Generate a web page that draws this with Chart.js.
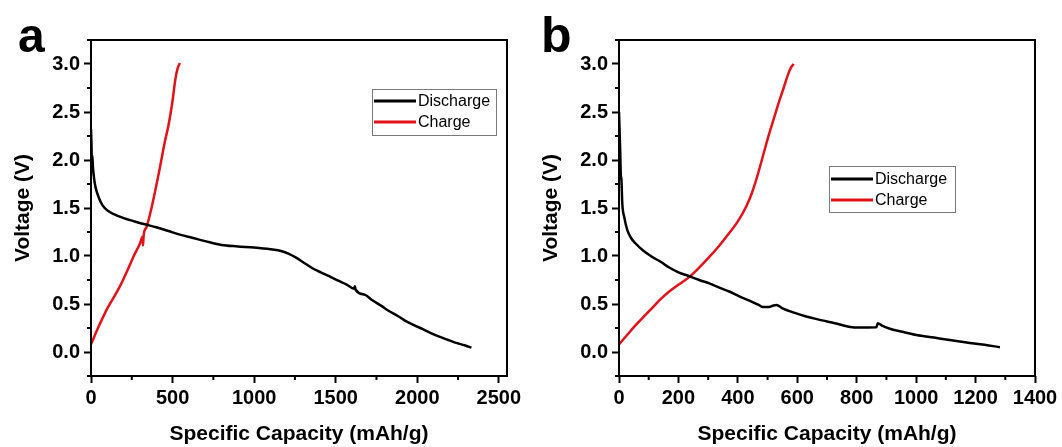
<!DOCTYPE html>
<html>
<head>
<meta charset="utf-8">
<title>Discharge / charge curves</title>
<script src="https://cdn.jsdelivr.net/npm/chart.js@4.4.1/dist/chart.umd.min.js"></script>
<style>
  html, body { margin: 0; padding: 0; background: #fff; }
  #wrap { position: relative; width: 1062px; height: 447px; overflow: hidden; }
  #wrap canvas { position: absolute; top: 0; }
  #chartA { left: 0; }
  #chartB { left: 528px; }
</style>
</head>
<body>
<div id="wrap">
  <canvas id="chartA" width="531" height="447"></canvas>
  <canvas id="chartB" width="534" height="447"></canvas>
</div>
<script>
// series names (same in both panels)
var seriesNames = ['Discharge', 'Charge'];

// panel a : capacity (mAh/g) / voltage (V)
var aDischargeCap  = [0, 3, 5, 8, 12, 18, 25, 35, 50, 70, 100, 140, 200, 268, 330, 400, 475, 550, 620, 700,
                      800, 900, 1000, 1100, 1170, 1210, 1260, 1305, 1360, 1408, 1460, 1512, 1570, 1612, 1618, 1622, 1680, 1720, 1780, 1824,
                      1880, 1927, 1980, 2031, 2080, 2135, 2190, 2238, 2290, 2332];
var aDischargeVolt = [2.32, 2.15, 2.0, 2.05, 1.92, 1.82, 1.74, 1.67, 1.60, 1.53, 1.475, 1.435, 1.395, 1.36, 1.33, 1.30, 1.26, 1.22, 1.19, 1.155,
                      1.115, 1.10, 1.088, 1.07, 1.05, 1.025, 0.98, 0.93, 0.87, 0.83, 0.79, 0.745, 0.70, 0.66, 0.685, 0.648, 0.595, 0.545, 0.48, 0.43,
                      0.375, 0.325, 0.28, 0.24, 0.2, 0.16, 0.125, 0.095, 0.07, 0.045];
var aChargeCap  = [0, 20, 40, 70, 102, 143, 185, 226, 268, 300, 316, 319, 323, 340, 371, 413, 454, 476, 500, 517, 530, 545];
var aChargeVolt = [0.08, 0.16, 0.24, 0.35, 0.46, 0.58, 0.71, 0.86, 1.02, 1.13, 1.20, 1.11, 1.22, 1.30, 1.50, 1.84, 2.2, 2.37, 2.62, 2.84, 2.95, 3.01];

// panel b
var bDischargeCap  = [0, 2, 4, 6, 8, 11, 18, 28, 40, 56, 80, 112, 140, 169, 200, 236, 270, 304, 338, 371,
                      405, 439, 470, 483, 505, 520, 530, 550, 589, 630, 669, 726, 786, 800, 866, 871, 885, 909, 954, 1001,
                      1060, 1113, 1170, 1230, 1282];
var bDischargeVolt = [2.5, 2.3, 2.1, 1.85, 1.8, 1.55, 1.4, 1.27, 1.19, 1.13, 1.06, 0.99, 0.94, 0.88, 0.83, 0.79, 0.75, 0.715, 0.67, 0.63,
                      0.58, 0.535, 0.49, 0.47, 0.47, 0.485, 0.49, 0.455, 0.41, 0.37, 0.34, 0.30, 0.257, 0.255, 0.257, 0.30, 0.275, 0.245, 0.21, 0.177,
                      0.15, 0.125, 0.1, 0.075, 0.05];
var bChargeCap  = [0, 28, 56, 84, 112, 140, 169, 200, 236, 270, 304, 338, 371, 400, 429, 450, 470, 486, 506, 520, 540, 554, 570, 580, 588];
var bChargeVolt = [0.08, 0.18, 0.28, 0.37, 0.46, 0.55, 0.63, 0.70, 0.78, 0.88, 0.99, 1.11, 1.24, 1.36, 1.52, 1.68, 1.88, 2.06, 2.28, 2.42,
                   2.62, 2.75, 2.9, 2.97, 3.0];

// ticks
var aXTicks = [0, 500, 1000, 1500, 2000, 2500];
var aXMinor = [250, 750, 1250, 1750, 2250];
var bXTicks = [0, 200, 400, 600, 800, 1000, 1200, 1400];
var bXMinor = [100, 300, 500, 700, 900, 1100, 1300];
var yTicks  = [0, 0.5, 1.0, 1.5, 2.0, 2.5, 3.0];
var yMinor  = [-0.25, 0.25, 0.75, 1.25, 1.75, 2.25, 2.75, 3.25];

var FONT = '"Liberation Sans", Arial, Helvetica, sans-serif';
var RED = 'rgb(226,18,24)';
Chart.defaults.font.family = FONT;
Chart.defaults.color = '#000';

function zip(xs, ys) {
  return xs.map(function(x, i) { return {x: x, y: ys[i]}; });
}

// box round the plot and the short minor ticks
var framePlugin = {
  id: 'frame',
  afterDraw: function(chart, args, opts) {
    var ctx = chart.ctx, a = chart.chartArea;
    var xs = chart.scales.x, ys = chart.scales.y;
    ctx.save();
    ctx.strokeStyle = '#000';
    ctx.lineWidth = 2;
    ctx.strokeRect(a.left, a.top, a.right - a.left, a.bottom - a.top);
    ctx.beginPath();
    (opts.minorX || []).forEach(function(v) {
      var px = xs.getPixelForValue(v);
      ctx.moveTo(px, a.bottom);
      ctx.lineTo(px, a.bottom + 4);
    });
    (opts.minorY || []).forEach(function(v) {
      var py = ys.getPixelForValue(v);
      ctx.moveTo(a.left, py);
      ctx.lineTo(a.left - 4, py);
    });
    ctx.stroke();
    ctx.restore();
  }
};

// framed legend sitting inside the plot
var boxLegendPlugin = {
  id: 'boxLegend',
  afterDraw: function(chart, args, o) {
    var ctx = chart.ctx;
    ctx.save();
    ctx.fillStyle = '#fff';
    ctx.fillRect(o.x, o.y, o.w, o.h);
    ctx.strokeStyle = '#7a7a7a';
    ctx.lineWidth = 1;
    ctx.strokeRect(o.x + 0.5, o.y + 0.5, o.w, o.h);
    ctx.font = '16px ' + FONT;
    ctx.textBaseline = 'middle';
    chart.data.datasets.forEach(function(ds, i) {
      var cy = o.y + o.rowTop + i * o.rowGap;
      ctx.strokeStyle = ds.borderColor;
      ctx.lineWidth = 3;
      ctx.beginPath();
      ctx.moveTo(o.x + 2, cy);
      ctx.lineTo(o.x + 44, cy);
      ctx.stroke();
      ctx.fillStyle = '#000';
      ctx.fillText(ds.label, o.x + 46, cy + 1);
    });
    ctx.restore();
  }
};

// the big panel letter
var tagPlugin = {
  id: 'tag',
  afterDraw: function(chart, args, o) {
    var ctx = chart.ctx;
    ctx.save();
    ctx.font = 'bold ' + o.size + 'px ' + FONT;
    ctx.fillStyle = '#000';
    ctx.textBaseline = 'alphabetic';
    ctx.fillText(o.text, o.x, o.y);
    ctx.restore();
  }
};

function voltageChart(canvasId, d) {
  return new Chart(document.getElementById(canvasId), {
    type: 'scatter',
    data: {
      datasets: [
        {label: seriesNames[0], data: zip(d.disCap, d.disVolt), borderColor: '#000', backgroundColor: '#000'},
        {label: seriesNames[1], data: zip(d.chCap, d.chVolt), borderColor: RED, backgroundColor: RED}
      ]
    },
    plugins: [framePlugin, boxLegendPlugin, tagPlugin],
    options: {
      responsive: false,
      devicePixelRatio: 1,
      animation: false,
      events: [],
      layout: { padding: {left: 0, top: 40, right: d.padRight, bottom: 0} },
      datasets: {
        scatter: {
          showLine: true,
          pointRadius: 0,
          borderWidth: 2.5,
          cubicInterpolationMode: 'monotone',
          fill: false
        }
      },
      scales: {
        x: {
          type: 'linear',
          position: 'bottom',
          min: 0,
          max: d.xMax,
          afterBuildTicks: function(s) { s.ticks = d.xTicks.map(function(v) { return {value: v}; }); },
          afterFit: function(s) { s.height = 71; },
          ticks: {
            autoSkip: false, maxRotation: 0, padding: 3, color: '#000',
            font: {size: 20, weight: 'bold'},
            callback: function(v) { return String(v); }
          },
          grid: {drawOnChartArea: false, drawTicks: true, tickLength: 7, tickWidth: 2, tickColor: '#000'},
          border: {display: false},
          title: {
            display: true, text: 'Specific Capacity (mAh/g)', color: '#000',
            font: {size: 21, weight: 'bold'}, padding: {top: 0, bottom: 0}
          }
        },
        y: {
          type: 'linear',
          min: -0.25,
          max: 3.25,
          afterBuildTicks: function(s) { s.ticks = yTicks.map(function(v) { return {value: v}; }); },
          afterFit: function(s) { s.width = 91; },
          ticks: {
            autoSkip: false, padding: 4, color: '#000',
            font: {size: 20, weight: 'bold'},
            callback: function(v) { return v.toFixed(1); }
          },
          grid: {drawOnChartArea: false, drawTicks: true, tickLength: 7, tickWidth: 2, tickColor: '#000'},
          border: {display: false},
          title: {
            display: true, text: 'Voltage (V)', color: '#000',
            font: {size: 21, weight: 'bold'}, padding: {top: 11, bottom: 0}
          }
        }
      },
      plugins: {
        legend: {display: false},
        tooltip: {enabled: false},
        frame: {minorX: d.xMinor, minorY: yMinor},
        boxLegend: d.legend,
        tag: d.tag
      }
    }
  });
}

voltageChart('chartA', {
  disCap: aDischargeCap, disVolt: aDischargeVolt,
  chCap: aChargeCap, chVolt: aChargeVolt,
  xMax: 2550, xTicks: aXTicks, xMinor: aXMinor, padRight: 24,
  legend: {x: 372, y: 89, w: 124, h: 46, rowTop: 12, rowGap: 21},
  tag: {text: 'a', x: 18, y: 52, size: 48}
});

voltageChart('chartB', {
  disCap: bDischargeCap, disVolt: bDischargeVolt,
  chCap: bChargeCap, chVolt: bChargeVolt,
  xMax: 1400, xTicks: bXTicks, xMinor: bXMinor, padRight: 27,
  legend: {x: 301, y: 166, w: 126, h: 46, rowTop: 13, rowGap: 21},
  tag: {text: 'b', x: 13, y: 52, size: 50}
});
</script>
</body>
</html>
